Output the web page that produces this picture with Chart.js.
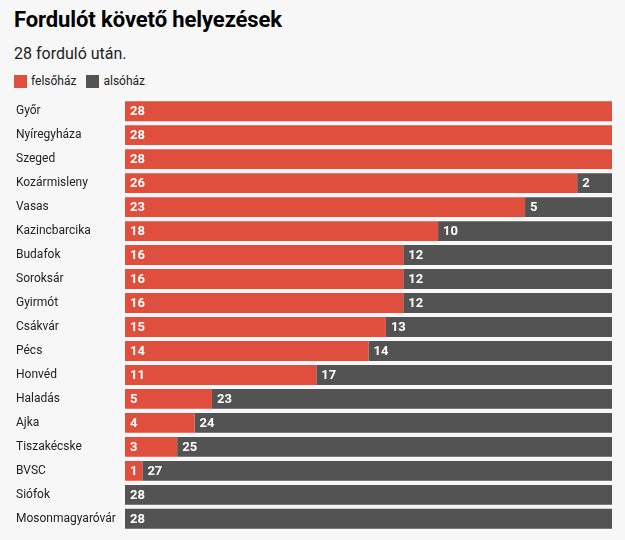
<!DOCTYPE html>
<html>
<head>
<meta charset="utf-8">
<script src="https://cdn.jsdelivr.net/npm/chart.js@4"></script>
<style>
  body { margin: 0; background: #f7f7f7; font-family: Roboto, sans-serif; }
  #wrap { position: relative; width: 625px; height: 540px; }
  h1 { position: absolute; left: 14px; top: 7px; margin: 0; font-size: 22px; font-weight: 700; color: #000; letter-spacing: -0.1px; }
  .sub { position: absolute; left: 14px; top: 44px; font-size: 16px; color: #222; }
  .legend { position: absolute; left: 14px; top: 74px; font-size: 12px; color: #222; display: flex; align-items: center; }
  .legend span.sw { display: inline-block; width: 13px; height: 13px; margin-right: 4px; }
  .legend span.item { display: flex; align-items: center; margin-right: 10px; }
  #box { position: absolute; left: 0; top: 92px; width: 625px; height: 446px; }
</style>
</head>
<body>
<div id="wrap">
  <h1>Fordulót követő helyezések</h1>
  <div class="sub">28 forduló után.</div>
  <div class="legend">
    <span class="item"><span class="sw" style="background:#e04e3e"></span>felsőház</span>
    <span class="item"><span class="sw" style="background:#535353"></span>alsóház</span>
  </div>
  <div id="box"><canvas id="myChart"></canvas></div>
</div>
<script>
// csapatok es helyezesek
const csapatok = ["Győr", "Nyíregyháza", "Szeged", "Kozármisleny", "Vasas", "Kazincbarcika", "Budafok", "Soroksár", "Gyirmót", "Csákvár", "Pécs", "Honvéd", "Haladás", "Ajka", "Tiszakécske", "BVSC", "Siófok", "Mosonmagyaróvár"];
const felsohaz = [28, 28, 28, 26, 23, 18, 16, 16, 16, 15, 14, 11, 5, 4, 3, 1, 0, 0];
const alsohaz = [0, 0, 0, 2, 5, 10, 12, 12, 12, 13, 14, 17, 23, 24, 25, 27, 28, 28];

// feliratok a szegmensek elejere
const feliratok = {
  id: 'feliratok',
  afterDatasetsDraw(chart) {
    const ctx = chart.ctx;
    ctx.save();
    ctx.fillStyle = '#fff';
    ctx.font = 'bold 13px Roboto';
    ctx.textBaseline = 'middle';
    chart.data.datasets.forEach((ds, di) => {
      chart.getDatasetMeta(di).data.forEach((bar, i) => {
        if (!ds.data[i]) return;
        ctx.fillText(ds.data[i], bar.base + 5, bar.y + 1);
      });
    });
    ctx.restore();
  }
};

new Chart(document.getElementById('myChart'), {
  type: 'bar',
  data: {
    labels: csapatok,
    datasets: [
      { label: 'felsőház', data: felsohaz, backgroundColor: '#e04e3e' },
      { label: 'alsóház', data: alsohaz, backgroundColor: '#535353' }
    ]
  },
  options: {
    indexAxis: 'y',
    responsive: true,
    maintainAspectRatio: false,
    animation: false,
    categoryPercentage: 1,
    barPercentage: 0.83,
    layout: { padding: { left: 16, right: 13, top: 0, bottom: 0 } },
    scales: {
      x: { stacked: true, min: 0, max: 28, display: false },
      y: {
        stacked: true,
        grid: { display: false },
        border: { display: false },
        afterFit: (scale) => { scale.width = 109; },
        ticks: { crossAlign: 'far', color: '#222', font: { family: 'Roboto', size: 12 }, padding: 0 }
      }
    },
    plugins: { legend: { display: false }, tooltip: { enabled: false } }
  },
  plugins: [feliratok]
});
</script>
</body>
</html>
